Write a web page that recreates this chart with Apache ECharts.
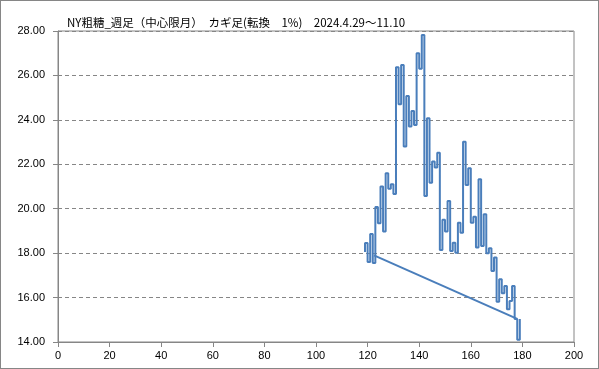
<!DOCTYPE html>
<html><head><meta charset="utf-8">
<script src="https://cdn.jsdelivr.net/npm/echarts@6/dist/echarts.min.js"></script>
<style>
html,body{margin:0;padding:0;background:#fff;}
#c{position:absolute;left:0;top:0;width:597px;height:367px;border:1px solid #868686;}
</style></head>
<body><div id="c"></div>
<script>
// Kagi reversal levels: vertical line at x = startX + i ends at levels[i]
const startX = 119;
const startLevel = 18.05;
const levels = [18.46,17.6,18.86,17.56,20.08,19.35,21.0,18.97,21.6,20.9,21.1,20.66,
  26.37,24.7,26.47,22.8,25.07,23.7,24.4,23.77,27.0,26.3,27.82,20.57,24.07,21.17,22.12,21.85,
  22.52,18.14,19.5,18.97,20.35,18.1,18.47,18.02,19.37,18.92,23.02,21.07,21.82,19.37,19.64,
  18.25,21.33,18.32,19.75,18.0,18.22,17.2,17.8,15.81,16.82,16.19,16.52,15.47,15.85,16.52,15.04,14.1,15.04];
// straight connecting segment
const linkX = [178, 122.5];
const linkY = [15.04, 17.9];
const xTicks = [0,20,40,60,80,100,120,140,160,180,200];
const yTicks = [14,16,18,20,22,24,26,28];
const title = 'NY粗糖_週足（中心限月）　カギ足(転換　1%)　2024.4.29〜11.10';

const pts = [[startX, startLevel]];
levels.forEach((v,i)=>{
  const x = startX + i;
  pts.push([x, v]);
  if (i < levels.length-1) pts.push([x+1, v]);
});
const link = linkX.map((x,i)=>[x, linkY[i]]);

const chart = echarts.init(document.getElementById('c'));
chart.setOption({
  animation:false,
  title:{text:title,left:61,top:11,textStyle:{fontFamily:'Noto Sans CJK JP',fontSize:11.5,fontWeight:'normal',color:'#000'}},
  grid:{left:57,top:30,right:24,bottom:26,show:true,borderColor:'#868686',borderWidth:1},
  xAxis:{type:'value',min:xTicks[0],max:xTicks[xTicks.length-1],interval:20,
    axisLine:{lineStyle:{color:'#868686'}},axisTick:{show:true,length:5,lineStyle:{color:'#868686'}},
    axisLabel:{color:'#000',fontFamily:'Liberation Sans',fontSize:11,margin:8},
    splitLine:{show:false}},
  yAxis:{type:'value',min:yTicks[0],max:yTicks[yTicks.length-1],interval:2,
    axisLine:{show:true,lineStyle:{color:'#868686'}},axisTick:{show:true,length:5,lineStyle:{color:'#868686'}},
    axisLabel:{color:'#000',fontFamily:'Liberation Sans',fontSize:11,margin:13,formatter:v=>v.toFixed(2)},
    splitLine:{show:true,lineStyle:{color:'#868686',type:[4,3]}}},
  series:[
    {type:'line',data:pts,symbol:'none',lineStyle:{color:'#4A7EBB',width:2},itemStyle:{color:'#4A7EBB'}},
    {type:'line',data:link,symbol:'none',lineStyle:{color:'#4A7EBB',width:2},itemStyle:{color:'#4A7EBB'}}
  ]
});
</script></body></html>
